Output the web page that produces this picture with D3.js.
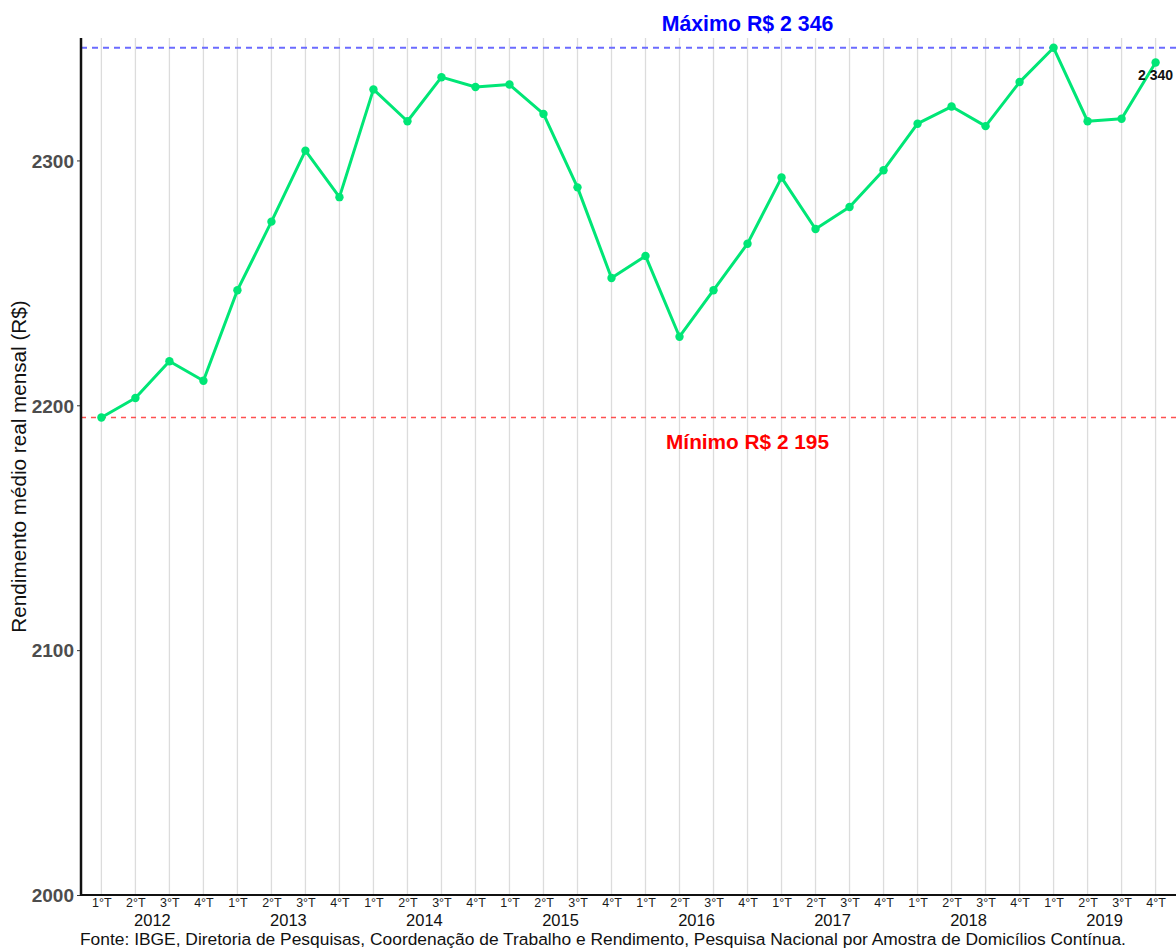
<!DOCTYPE html>
<html>
<head>
<meta charset="utf-8">
<script src="https://cdn.jsdelivr.net/npm/d3@7"></script>
<style>
  html, body { margin: 0; padding: 0; background: #fff; }
  svg { display: block; font-family: "Liberation Sans", Arial, sans-serif; }
</style>
</head>
<body>
<svg id="chart" width="1176" height="948"></svg>
<script>
// Rendimento médio real mensal, por trimestre (R$)
const years = ["2012", "2013", "2014", "2015", "2016", "2017", "2018", "2019"];
const quarters = ["1°T", "2°T", "3°T", "4°T"];
const values = [
  2195, 2203, 2218, 2210,
  2247, 2275, 2304, 2285,
  2329, 2316, 2334, 2330,
  2331, 2319, 2289, 2252,
  2261, 2228, 2247, 2266,
  2293, 2272, 2281, 2296,
  2315, 2322, 2314, 2332,
  2346, 2316, 2317, 2340
];
const yTicks = [2000, 2100, 2200, 2300];
const maxValue = 2346;
const minValue = 2195;
const maxLabel = "Máximo R$ 2 346";
const minLabel = "Mínimo R$ 2 195";
const lastLabel = "2 340";
const yTitle = "Rendimento médio real mensal (R$)";
const caption = "Fonte: IBGE, Diretoria de Pesquisas, Coordenação de Trabalho e Rendimento, Pesquisa Nacional por Amostra de Domicílios Contínua.";

const data = values.map((v, i) => ({
  key: years[Math.floor(i / 4)] + "-" + quarters[i % 4],
  year: years[Math.floor(i / 4)],
  quarter: quarters[i % 4],
  value: v
}));

const svg = d3.select("#chart");
const plotLeft = 81, plotRight = 1176, plotTop = 38, plotBottom = 895;

const x = d3.scalePoint()
  .domain(data.map(d => d.key))
  .range([plotLeft, plotRight])
  .padding(0.6);

const y = d3.scaleLinear()
  .domain([2000, 2350])
  .range([plotBottom, plotTop]);

// vertical grid lines at every quarter
svg.append("g")
  .selectAll("line")
  .data(data)
  .join("line")
  .attr("x1", d => x(d.key)).attr("x2", d => x(d.key))
  .attr("y1", plotTop).attr("y2", plotBottom)
  .attr("stroke", "#dcdcdc")
  .attr("stroke-width", 1.3);

// reference lines for max and min
svg.append("line")
  .attr("x1", plotLeft).attr("x2", plotRight)
  .attr("y1", y(maxValue)).attr("y2", y(maxValue))
  .attr("stroke", "#6b6bff")
  .attr("stroke-width", 2)
  .attr("stroke-dasharray", "6,5");

svg.append("line")
  .attr("x1", plotLeft).attr("x2", plotRight)
  .attr("y1", y(minValue)).attr("y2", y(minValue))
  .attr("stroke", "#ff5050")
  .attr("stroke-width", 1.5)
  .attr("stroke-dasharray", "5,5");

// series line and points
const line = d3.line()
  .x(d => x(d.key))
  .y(d => y(d.value));

svg.append("path")
  .datum(data)
  .attr("d", line)
  .attr("fill", "none")
  .attr("stroke", "#00e676")
  .attr("stroke-width", 3)
  .attr("stroke-linejoin", "round");

svg.append("g")
  .selectAll("circle")
  .data(data)
  .join("circle")
  .attr("cx", d => x(d.key))
  .attr("cy", d => y(d.value))
  .attr("r", 4.2)
  .attr("fill", "#00e676");

// y axis
const yAxis = d3.axisLeft(y).tickValues(yTicks).tickSize(4).tickPadding(3).tickFormat(d3.format("d"));
const gy = svg.append("g")
  .attr("transform", `translate(${plotLeft},0)`)
  .call(yAxis);
gy.select(".domain").remove();
gy.selectAll(".tick line").attr("stroke", "#333").attr("stroke-width", 1);
gy.selectAll(".tick text")
  .attr("fill", "#4d4d4d")
  .style("font-size", "19px")
  .style("font-weight", "bold")
  .attr("dy", "0.36em");

svg.append("line")
  .attr("x1", plotLeft).attr("x2", plotLeft)
  .attr("y1", plotTop).attr("y2", plotBottom + 1)
  .attr("stroke", "#111")
  .attr("stroke-width", 2.5);

// x axis with quarter labels
const xAxis = d3.axisBottom(x).tickSize(0).tickPadding(3).tickFormat(k => k.split("-")[1]);
const gx = svg.append("g")
  .attr("transform", `translate(0,${plotBottom})`)
  .call(xAxis);
gx.select(".domain").remove();
gx.selectAll(".tick text")
  .attr("fill", "#1a1a1a")
  .style("font-size", "12.5px");

svg.append("line")
  .attr("x1", plotLeft).attr("x2", plotRight)
  .attr("y1", plotBottom).attr("y2", plotBottom)
  .attr("stroke", "#111")
  .attr("stroke-width", 2.2);

// year labels centred under their four quarters
svg.append("g")
  .selectAll("text")
  .data(years)
  .join("text")
  .attr("x", yr => d3.mean(data.filter(d => d.year === yr), d => x(d.key)))
  .attr("y", 926)
  .attr("text-anchor", "middle")
  .attr("fill", "#111")
  .style("font-size", "16.5px")
  .text(yr => yr);

// annotations
svg.append("text")
  .attr("x", x(data[19].key))
  .attr("y", 31)
  .attr("text-anchor", "middle")
  .attr("fill", "#0000ff")
  .style("font-size", "21.3px")
  .style("font-weight", "bold")
  .text(maxLabel);

svg.append("text")
  .attr("x", x(data[19].key))
  .attr("y", 449)
  .attr("text-anchor", "middle")
  .attr("fill", "#ff0000")
  .style("font-size", "20.8px")
  .style("font-weight", "bold")
  .text(minLabel);

const last = data[data.length - 1];
svg.append("text")
  .attr("x", x(last.key))
  .attr("y", y(last.value) + 18)
  .attr("text-anchor", "middle")
  .attr("fill", "#111")
  .style("font-size", "14px")
  .style("font-weight", "bold")
  .text(lastLabel);

// y axis title
svg.append("text")
  .attr("transform", `translate(26,${(plotTop + plotBottom) / 2}) rotate(-90)`)
  .attr("text-anchor", "middle")
  .attr("fill", "#111")
  .style("font-size", "20.7px")
  .text(yTitle);

// caption
svg.append("text")
  .attr("x", 80)
  .attr("y", 945)
  .attr("fill", "#111")
  .style("font-size", "17.4px")
  .text(caption);
</script>
</body>
</html>
